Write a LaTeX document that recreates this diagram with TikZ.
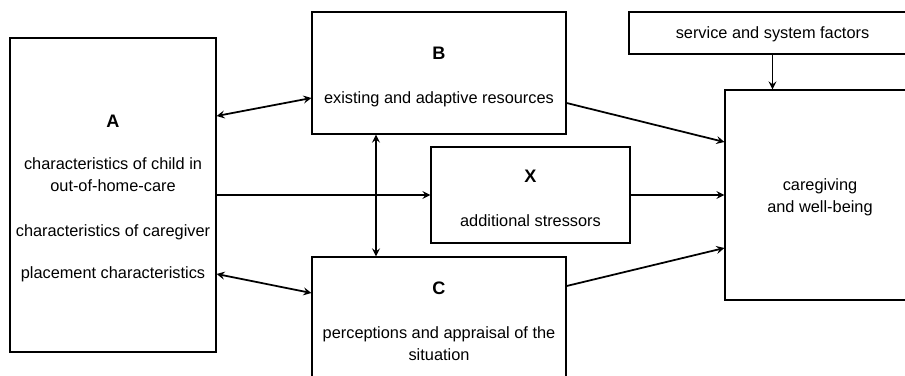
\documentclass[tikz,border=0pt]{standalone}
\usepackage{fontspec}
\setmainfont{Liberation Sans}
\tikzset{>=stealth}
\usetikzlibrary{positioning}
\tikzset{
  box/.style={draw, line width=0.7pt, align=center, inner sep=0pt,
    font=\fontsize{9.3pt}{12.5pt}\selectfont},
  link/.style={line width=1pt}
}
% lifts the first line so the text sits a bit lower
\newcommand{\toprule}[1]{\rule{0pt}{#1}}
\newcommand{\boxtitle}[1]{{\fontsize{10.3pt}{12.5pt}\selectfont\textbf{#1}}}

\begin{document}
\begin{tikzpicture}[x=0.02cm,y=-0.02cm]
    \useasboundingbox (0,0) rectangle (905,375);
    \clip (0,0) rectangle (905,375);

    \node[box, minimum width=4.12cm, minimum height=6.28cm] (A) at (113,195)
      {\toprule{11.2pt}\boxtitle{A}\\[11.3pt]
       characteristics of child in\\out-of-home-care\\[13pt]
       characteristics of caregiver\\[11.3pt]
       placement characteristics};
    \node[box, minimum width=5.08cm, minimum height=2.44cm] (B) at (439,73)
      {\toprule{11.2pt}\boxtitle{B}\\[12.5pt]existing and adaptive resources};
    \node[box, minimum width=3.98cm, minimum height=1.92cm] (X) at (530.5,195)
      {\toprule{11.2pt}\boxtitle{X}\\[12.5pt]additional stressors};
    \node[box, minimum width=5.08cm, minimum height=2.44cm] (C) at (439,318)
      {\toprule{11.2pt}\boxtitle{C}\\[12.5pt]perceptions and appraisal of the\\situation};
    \node[box, minimum width=5.74cm, minimum height=0.84cm] (serv) at (772.5,33)
      {\toprule{8pt}service and system factors};
    \node[box, minimum width=3.8cm, minimum height=4.2cm] (care) at (820,195)
      {\toprule{9.2pt}caregiving\\and well-being};

    \draw[link,<->] ([yshift=1.58cm]A.east) -- ([yshift=-0.5cm]B.west);
    \draw[link,<->] ([yshift=-1.58cm]A.east) -- ([yshift=0.5cm]C.west);
    \draw[link,->] (A.east) -- (X.west);
    \draw[link,<->] ([xshift=-1.26cm]B.south) -- ([xshift=-1.26cm]C.north);

    \draw[link,->] ([yshift=-0.6cm]B.east) -- ([yshift=1.06cm]care.west);
    \draw[link,->] (X.east) -- (care.west);
    \draw[link,->] ([yshift=0.64cm]C.east) -- ([yshift=-1.06cm]care.west);
    \draw[link,->] (serv.south) -- (serv.south |- care.north);

  \end{tikzpicture}
\end{document}
